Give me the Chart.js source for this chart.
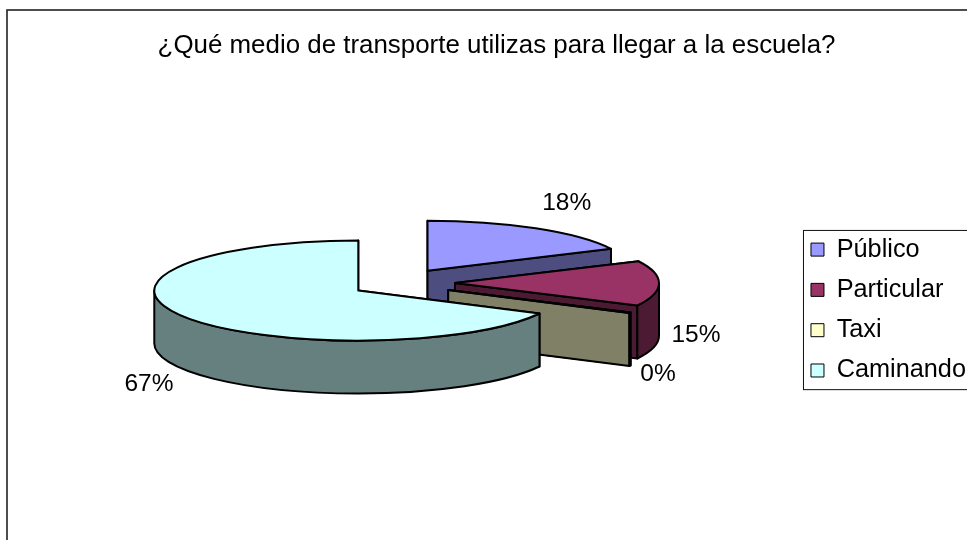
<!DOCTYPE html>
<html lang="es">
<head>
<meta charset="utf-8">
<style>html,body{margin:0;padding:0;background:#fff;overflow:hidden}canvas{display:block}</style>
<script src="https://cdn.jsdelivr.net/npm/chart.js@4"></script>
</head>
<body>
<canvas id="c" width="967" height="540"></canvas>
<script>
const chartTitle = '¿Qué medio de transporte utilizas para llegar a la escuela?';
const categories = ['Público', 'Particular', 'Taxi', 'Caminando'];
const shares = [17.8, 14.6, 0.2, 67.4];
const topColors = ['#9999FF', '#993366', '#FFFFCC', '#CCFFFF'];
const wallColors = ['#4D4D80', '#4D1A33', '#808066', '#668080'];

const FONT = '"Liberation Sans", Arial, sans-serif';

const pie3d = {
  id: 'pie3d',
  beforeDraw(chart) {
    const { ctx, legend, width } = chart;
    ctx.save();
    ctx.fillStyle = '#fff';
    ctx.fillRect(0, 0, width, chart.height);
    ctx.strokeStyle = '#222';
    ctx.lineWidth = 1.6;
    ctx.strokeRect(7, 10, width + 20, chart.height + 20);
    const hb = legend.legendHitBoxes;
    const top = hb[0].top - 7;
    const bottom = hb[hb.length - 1].top + hb[hb.length - 1].height + 6;
    ctx.strokeStyle = '#111';
    ctx.lineWidth = 1;
    ctx.strokeRect(hb[0].left - 8 + 0.5, top + 0.5, width, bottom - top);
    ctx.restore();
  },
  beforeDatasetDraw(chart, args, opts) {
    const { ctx } = chart;
    const arcs = chart.getDatasetMeta(0).data;
    const total = shares.reduce((a, b) => a + b, 0);
    const edge = (e, ax, ay, ang) => [ax + e.outerRadius * Math.cos(ang), ay + e.outerRadius * opts.squash * Math.sin(ang)];
    arcs.forEach((e, i) => {
      const off = e.options.offset || 0;
      const mid = (e.startAngle + e.endAngle) / 2;
      const ax = opts.cx + off * Math.cos(mid);
      const ay = opts.cy + off * opts.offsetSquash * Math.sin(mid);
      const rx = e.outerRadius, ry = rx * opts.squash, d = opts.depth;
      ctx.save();
      ctx.lineWidth = opts.line;
      ctx.lineJoin = 'round';
      ctx.strokeStyle = '#000';
      ctx.fillStyle = wallColors[i];
      [e.startAngle, e.endAngle].forEach(ang => {
        const [px, py] = edge(e, ax, ay, ang);
        ctx.beginPath();
        ctx.moveTo(ax, ay);
        ctx.lineTo(px, py);
        ctx.lineTo(px, py + d);
        ctx.lineTo(ax, ay + d);
        ctx.closePath();
        ctx.fill();
        ctx.stroke();
      });
      const a = Math.max(e.startAngle, 0), b = Math.min(e.endAngle, Math.PI);
      if (b > a) {
        ctx.beginPath();
        ctx.ellipse(ax, ay, rx, ry, 0, a, b);
        ctx.ellipse(ax, ay + d, rx, ry, 0, b, a, true);
        ctx.closePath();
        ctx.fill();
        ctx.stroke();
      }
      ctx.fillStyle = topColors[i];
      ctx.beginPath();
      ctx.moveTo(ax, ay);
      ctx.ellipse(ax, ay, rx, ry, 0, e.startAngle, e.endAngle);
      ctx.closePath();
      ctx.fill();
      ctx.stroke();
      ctx.restore();
    });
    ctx.save();
    ctx.fillStyle = '#000';
    ctx.font = opts.labelSize + 'px ' + FONT;
    ctx.textAlign = 'center';
    ctx.textBaseline = 'middle';
    arcs.forEach((e, i) => {
      const off = e.options.offset || 0;
      const mid = (e.startAngle + e.endAngle) / 2;
      const ax = opts.cx + off * Math.cos(mid);
      const ay = opts.cy + off * opts.offsetSquash * Math.sin(mid);
      const [px, py] = edge(e, ax, ay, mid);
      const n = opts.labelNudge[i];
      ctx.fillText(Math.round(shares[i] / total * 100) + '%', px + n[0], py + n[1]);
    });
    ctx.restore();
    return false;
  }
};

new Chart(document.getElementById('c'), {
  type: 'pie',
  data: {
    labels: categories,
    datasets: [{
      data: shares,
      backgroundColor: topColors,
      borderColor: '#000',
      borderWidth: 1,
      offset: [50, 54, 53, 50],
      radius: 204
    }]
  },
  plugins: [pie3d],
  options: {
    responsive: false,
    animation: false,
    layout: { padding: { left: 17, right: -9, top: 0, bottom: 0 } },
    plugins: {
      tooltip: { enabled: false },
      title: {
        display: true,
        text: chartTitle,
        color: '#000',
        font: { family: FONT, size: 25.9, weight: 'normal', lineHeight: 1.2 },
        padding: { top: 30, bottom: 19 }
      },
      legend: {
        position: 'right',
        fullSize: false,
        labels: {
          color: '#000',
          font: { family: FONT, size: 25.3 },
          boxWidth: 13,
          boxHeight: 13,
          padding: 15
        }
      },
      pie3d: {
        cx: 401, cy: 283, squash: 0.245, offsetSquash: 0.29, depth: 53, line: 2,
        labelSize: 24.5,
        labelNudge: [[31, -25], [37, 52], [28, 62], [-35, 68]]
      }
    }
  }
});
</script>
</body>
</html>
